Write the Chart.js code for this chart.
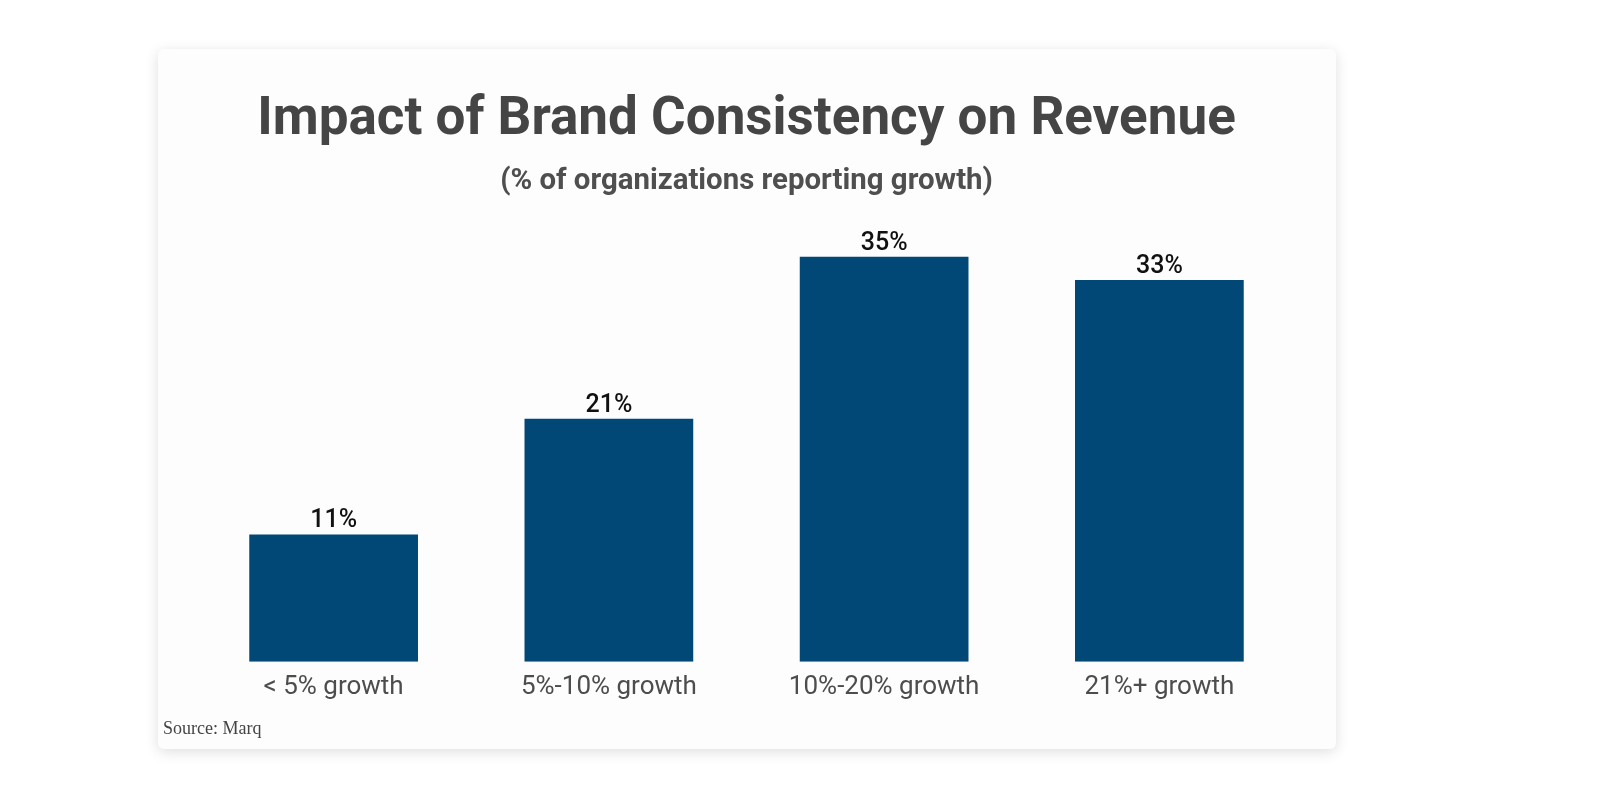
<!DOCTYPE html>
<html>
<head>
<meta charset="utf-8">
<script src="https://cdn.jsdelivr.net/npm/chart.js@4"></script>
<style>
  body { margin: 0; background: #ffffff; width: 1600px; height: 802px; overflow: hidden; }
  #card {
    position: absolute; left: 158px; top: 49px; width: 1178px; height: 700px;
    background: #fdfdfd; border-radius: 6px;
    box-shadow: 0 3px 14px rgba(0, 0, 0, 0.13);
  }
  #chart { position: absolute; left: 0; top: 0; }
  #source {
    position: absolute; left: 5px; top: 669px;
    font-family: "Liberation Serif", "DejaVu Serif", serif; font-size: 18px; color: #444;
  }
</style>
</head>
<body>
<div id="card">
  <canvas id="chart" width="1178" height="700"></canvas>
  <div id="source">Source: Marq</div>
</div>
<script>
const categories = ['< 5% growth', '5%-10% growth', '10%-20% growth', '21%+ growth'];
const growthShare = [11, 21, 35, 33];
const titleText = 'Impact of Brand Consistency on Revenue';
const subtitleText = '(% of organizations reporting growth)';

// value labels above each bar
const barLabels = {
  id: 'barLabels',
  afterDatasetsDraw(chart) {
    const ctx = chart.ctx;
    const meta = chart.getDatasetMeta(0);
    ctx.save();
    ctx.font = '500 25px Roboto';
    ctx.fillStyle = '#111111';
    ctx.textAlign = 'center';
    ctx.textBaseline = 'alphabetic';
    meta.data.forEach((bar, i) => {
      ctx.fillText(growthShare[i] + '%', bar.x, bar.y - 7);
    });
    ctx.restore();
  }
};

const ctx = document.getElementById('chart').getContext('2d');
new Chart(ctx, {
  type: 'bar',
  data: {
    labels: categories,
    datasets: [{
      data: growthShare,
      backgroundColor: '#014877',
      categoryPercentage: 1,
      barPercentage: 0.613
    }]
  },
  options: {
    responsive: false,
    animation: false,
    layout: { padding: { left: 38, right: 39, top: 0, bottom: 44 } },
    plugins: {
      legend: { display: false },
      tooltip: { enabled: false },
      title: {
        display: true,
        text: titleText,
        color: '#454545',
        font: { family: 'Roboto', size: 53, weight: 'bold' },
        padding: { top: 40, bottom: 0 }
      },
      subtitle: {
        display: true,
        text: subtitleText,
        color: '#4f4f4f',
        font: { family: 'Roboto', size: 29.4, weight: 'bold' },
        padding: { top: 11, bottom: 0 }
      }
    },
    scales: {
      x: {
        grid: { display: false },
        border: { display: false },
        ticks: {
          color: '#4d4d4d',
          padding: 2,
          font: { family: 'Roboto', size: 26 }
        }
      },
      y: {
        display: false,
        min: 0,
        max: 40
      }
    }
  },
  plugins: [barLabels]
});
</script>
</body>
</html>
